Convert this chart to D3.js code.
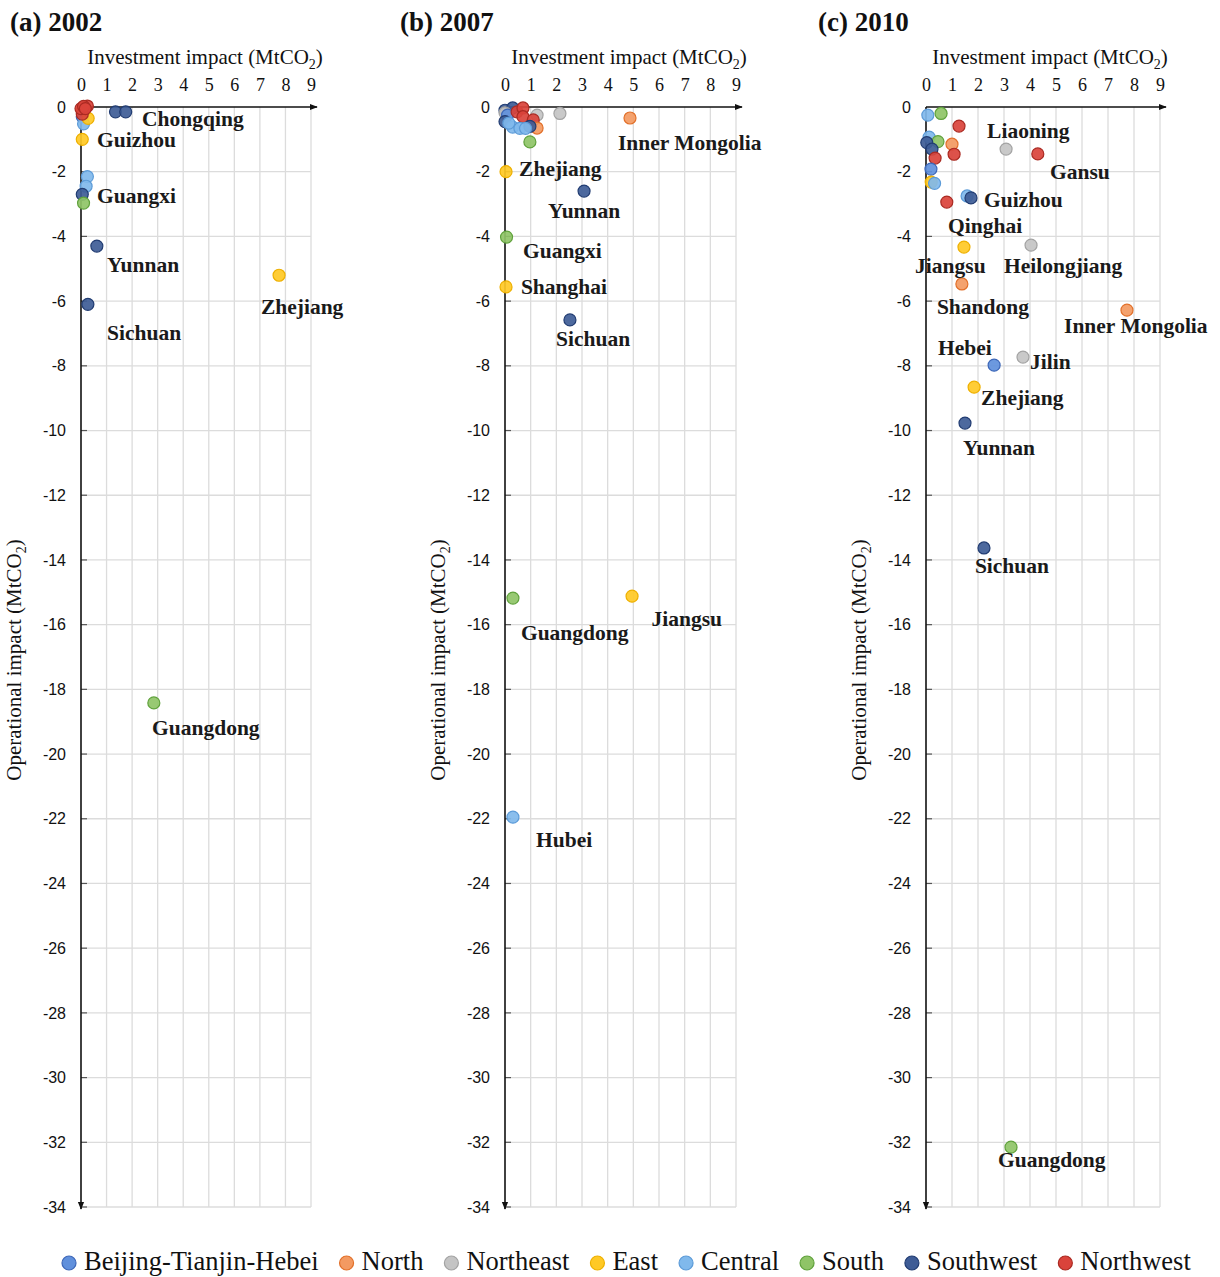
<!DOCTYPE html>
<html>
<head>
<meta charset="utf-8">
<script src="https://cdn.jsdelivr.net/npm/d3@7/dist/d3.min.js"></script>
<style>
  body { margin: 0; background: #fff; }
  text { font-family: "Liberation Serif", "Times New Roman", serif; }
</style>
</head>
<body>
<div id="chart"></div>
<script>
// regions and their colours (legend order)
var regions = ["Beijing-Tianjin-Hebei", "North", "Northeast", "East", "Central", "South", "Southwest", "Northwest"];
var fills   = ["#6090dc", "#f39a62", "#c4c4c4", "#ffc925", "#80b9ec", "#8fc467", "#3e5c96", "#da433b"];
var strokes = ["#3d67b8", "#e2702a", "#a3a3a3", "#eeb000", "#5c9bd8", "#60a23c", "#213c72", "#aa2a22"];

var xTicks = [0, 1, 2, 3, 4, 5, 6, 7, 8, 9];
var yTicks = [0, -2, -4, -6, -8, -10, -12, -14, -16, -18, -20, -22, -24, -26, -28, -30, -32, -34];

// [region, investment impact, operational impact]
var pts2002 = [
  ["North", 0.05, -0.1],
  ["Northeast", 0.12, -0.15],
  ["Beijing-Tianjin-Hebei", 0.05, -0.3],
  ["Central", 0.1, -0.52],
  ["East", 0.28, -0.35],
  ["Northwest", 0.05, -0.22],
  ["Northwest", 0.0, -0.05],
  ["Northwest", 0.25, 0.03],
  ["Northwest", 0.1, 0.02],
  ["Northwest", 0.17, -0.05],
  ["Southwest", 1.35, -0.15],
  ["Southwest", 1.75, -0.15],
  ["East", 0.05, -1.0],
  ["Central", 0.25, -2.15],
  ["Central", 0.2, -2.45],
  ["Southwest", 0.05, -2.7],
  ["South", 0.1, -2.97],
  ["Southwest", 0.62, -4.3],
  ["East", 7.75, -5.2],
  ["Southwest", 0.27, -6.1],
  ["South", 2.85, -18.42]
];
var pts2007 = [
  ["Southwest", 0.0, -0.1],
  ["Southwest", 0.3, -0.03],
  ["Northeast", 0.0, -0.18],
  ["Beijing-Tianjin-Hebei", 0.1, -0.25],
  ["Southwest", 0.0, -0.45],
  ["Northeast", 1.25, -0.25],
  ["Northeast", 2.14, -0.2],
  ["Northwest", 0.47, -0.15],
  ["Northwest", 0.7, -0.03],
  ["Northwest", 0.7, -0.3],
  ["Northwest", 1.1, -0.4],
  ["Central", 0.3, -0.62],
  ["Central", 0.58, -0.66],
  ["Central", 0.15, -0.5],
  ["North", 1.25, -0.65],
  ["Southwest", 0.97, -0.6],
  ["Central", 0.8, -0.66],
  ["South", 0.97, -1.08],
  ["North", 4.87, -0.34],
  ["East", 0.04, -2.0],
  ["Southwest", 3.08, -2.6],
  ["South", 0.06, -4.02],
  ["East", 0.04, -5.56],
  ["Southwest", 2.53, -6.58],
  ["South", 0.31, -15.18],
  ["East", 4.95, -15.12],
  ["Central", 0.31, -21.95]
];
var pts2010 = [
  ["Central", 0.07, -0.25],
  ["South", 0.58, -0.2],
  ["Northwest", 1.27, -0.59],
  ["Central", 0.12, -0.93],
  ["South", 0.46, -1.07],
  ["Southwest", 0.03, -1.1],
  ["Southwest", 0.23, -1.3],
  ["North", 1.0, -1.15],
  ["Northwest", 1.08, -1.46],
  ["Northeast", 3.08, -1.3],
  ["Northwest", 4.3, -1.45],
  ["Northwest", 0.35, -1.58],
  ["Beijing-Tianjin-Hebei", 0.19, -1.92],
  ["East", 0.2, -2.32],
  ["Central", 0.33, -2.36],
  ["Northwest", 0.8, -2.94],
  ["Central", 1.58, -2.75],
  ["Southwest", 1.73, -2.81],
  ["East", 1.46, -4.33],
  ["Northeast", 4.04, -4.27],
  ["North", 1.38, -5.47],
  ["North", 7.73, -6.28],
  ["Northeast", 3.73, -7.73],
  ["Beijing-Tianjin-Hebei", 2.62, -7.98],
  ["East", 1.85, -8.66],
  ["Southwest", 1.5, -9.77],
  ["Southwest", 2.23, -13.63],
  ["South", 3.27, -32.15]
];

// [name, x, y] label anchors (left edge, baseline) in data units
var labels2002 = [
  ["Chongqing", 2.39, -0.6], ["Guizhou", 0.63, -1.24], ["Guangxi", 0.63, -2.97],
  ["Yunnan", 1.02, -5.1], ["Zhejiang", 7.04, -6.4], ["Sichuan", 1.02, -7.2],
  ["Guangdong", 2.78, -19.4]
];
var labels2007 = [
  ["Inner Mongolia", 4.4, -1.33], ["Zhejiang", 0.55, -2.13], ["Yunnan", 1.68, -3.43],
  ["Guangxi", 0.7, -4.67], ["Shanghai", 0.62, -5.78], ["Sichuan", 1.99, -7.39],
  ["Guangdong", 0.62, -16.47], ["Jiangsu", 5.71, -16.04], ["Hubei", 1.21, -22.88]
];
var labels2010 = [
  ["Liaoning", 2.35, -0.96], ["Gansu", 4.77, -2.23], ["Guizhou", 2.23, -3.09],
  ["Qinghai", 0.85, -3.9], ["Jiangsu", -0.42, -5.13], ["Heilongjiang", 3.0, -5.13],
  ["Shandong", 0.42, -6.4], ["Inner Mongolia", 5.31, -6.99], ["Hebei", 0.46, -7.67],
  ["Jilin", 4.0, -8.1], ["Zhejiang", 2.12, -9.21], ["Yunnan", 1.42, -10.76],
  ["Sichuan", 1.88, -14.4], ["Guangdong", 2.77, -32.77]
];

var panels = [
  {title: "(a) 2002", tx: 10, x0: 81, x1: 311, pts: pts2002, labels: labels2002},
  {title: "(b) 2007", tx: 400, x0: 505, x1: 736, pts: pts2007, labels: labels2007},
  {title: "(c) 2010", tx: 818, x0: 926, x1: 1160, pts: pts2010, labels: labels2010}
];

var width = 1220, height = 1277;
var color = d3.scaleOrdinal().domain(regions).range(fills);
var edge = d3.scaleOrdinal().domain(regions).range(strokes);
var y = d3.scaleLinear().domain([0, -34]).range([107, 1207]);

var svg = d3.select("#chart").append("svg")
    .attr("width", width)
    .attr("height", height);

var defs = svg.append("defs");
defs.append("marker")
    .attr("id", "arrow")
    .attr("viewBox", "0 0 10 10")
    .attr("refX", 9).attr("refY", 5)
    .attr("markerWidth", 8).attr("markerHeight", 8)
    .attr("markerUnits", "userSpaceOnUse")
    .attr("orient", "auto")
  .append("path")
    .attr("d", "M0,1 L10,5 L0,9 Z")
    .attr("fill", "#111");

panels.forEach(function(p) {
  var x = d3.scaleLinear().domain([0, 9]).range([p.x0, p.x1]);
  var g = svg.append("g");

  // panel title
  g.append("text")
      .attr("x", p.tx).attr("y", 31)
      .style("font-size", "27px")
      .style("font-weight", "bold")
      .attr("fill", "#111")
      .text(p.title);

  // grid
  g.append("g").selectAll("line")
      .data(xTicks.slice(1))
      .enter().append("line")
      .attr("x1", (d) => x(d)).attr("x2", (d) => x(d))
      .attr("y1", y(0)).attr("y2", y(-34))
      .attr("stroke", "#dcdcdc").attr("stroke-width", 1.3);
  g.append("g").selectAll("line")
      .data(yTicks.slice(1))
      .enter().append("line")
      .attr("x1", x(0)).attr("x2", x(9))
      .attr("y1", (d) => y(d)).attr("y2", (d) => y(d))
      .attr("stroke", "#dcdcdc").attr("stroke-width", 1.3);

  // small y tick marks
  g.append("g").selectAll("line")
      .data(yTicks.slice(1))
      .enter().append("line")
      .attr("x1", x(0)).attr("x2", x(0) + 6)
      .attr("y1", (d) => y(d)).attr("y2", (d) => y(d))
      .attr("stroke", "#555").attr("stroke-width", 1.2);

  // axes lines with arrows
  g.append("line")
      .attr("x1", x(0)).attr("x2", x(9) + 6)
      .attr("y1", y(0)).attr("y2", y(0))
      .attr("stroke", "#111").attr("stroke-width", 1.6)
      .attr("marker-end", "url(#arrow)");
  g.append("line")
      .attr("x1", x(0)).attr("x2", x(0))
      .attr("y1", y(0)).attr("y2", y(-34) + 2)
      .attr("stroke", "#111").attr("stroke-width", 1.6)
      .attr("marker-end", "url(#arrow)");

  // tick labels
  var xa = g.append("g")
      .attr("transform", `translate(0,${y(0)})`)
      .call(d3.axisTop(x).tickValues(xTicks).tickSize(0).tickPadding(16).tickFormat((d) => String(d)));
  xa.select(".domain").remove();
  xa.selectAll("text")
      .style("font-family", "'Liberation Serif', serif")
      .style("font-size", "18px")
      .attr("fill", "#111");

  var ya = g.append("g")
      .attr("transform", `translate(${x(0)},0)`)
      .call(d3.axisLeft(y).tickValues(yTicks).tickSize(0).tickPadding(15).tickFormat((d) => String(d)));
  ya.select(".domain").remove();
  ya.selectAll("text")
      .style("font-family", "'Liberation Sans', Arial, sans-serif")
      .style("font-size", "16px")
      .attr("fill", "#111");

  // axis titles
  var xt = g.append("text")
      .attr("x", x(0) + 124).attr("y", 64)
      .attr("text-anchor", "middle")
      .style("font-size", "21px")
      .attr("fill", "#111");
  xt.append("tspan").text("Investment impact (MtCO");
  xt.append("tspan").attr("dy", 5).style("font-size", "14px").text("2");
  xt.append("tspan").attr("dy", -5).text(")");

  var yt = g.append("text")
      .attr("transform", `translate(${x(0) - 60},660) rotate(-90)`)
      .attr("text-anchor", "middle")
      .style("font-size", "21px")
      .attr("fill", "#111");
  yt.append("tspan").text("Operational impact (MtCO");
  yt.append("tspan").attr("dy", 5).style("font-size", "14px").text("2");
  yt.append("tspan").attr("dy", -5).text(")");

  // points
  g.append("g").selectAll("circle")
      .data(p.pts)
      .enter().append("circle")
      .attr("cx", (d) => x(d[1]))
      .attr("cy", (d) => y(d[2]))
      .attr("r", 6)
      .attr("fill", (d) => color(d[0]))
      .attr("fill-opacity", 0.92)
      .attr("stroke", (d) => edge(d[0]))
      .attr("stroke-width", 1.2);

  // province labels
  g.append("g").selectAll("text")
      .data(p.labels)
      .enter().append("text")
      .attr("x", (d) => x(d[1]))
      .attr("y", (d) => y(d[2]))
      .style("font-size", "21.5px")
      .style("font-weight", "bold")
      .attr("fill", "#1a1a1a")
      .text((d) => d[0]);
});

// legend
var legend = svg.append("g").attr("transform", "translate(0,1263)");
var lx = 69;
regions.forEach(function(r, i) {
  var item = legend.append("g");
  item.append("circle")
      .attr("cx", lx).attr("cy", 0).attr("r", 7)
      .attr("fill", color(r))
      .attr("stroke", edge(r)).attr("stroke-width", 1.2);
  var t = item.append("text")
      .attr("x", lx + 15).attr("y", 7)
      .style("font-size", "26.5px")
      .attr("fill", "#111")
      .text(r);
  lx = lx + 15 + t.node().getComputedTextLength() + 28;
});
</script>
</body>
</html>
